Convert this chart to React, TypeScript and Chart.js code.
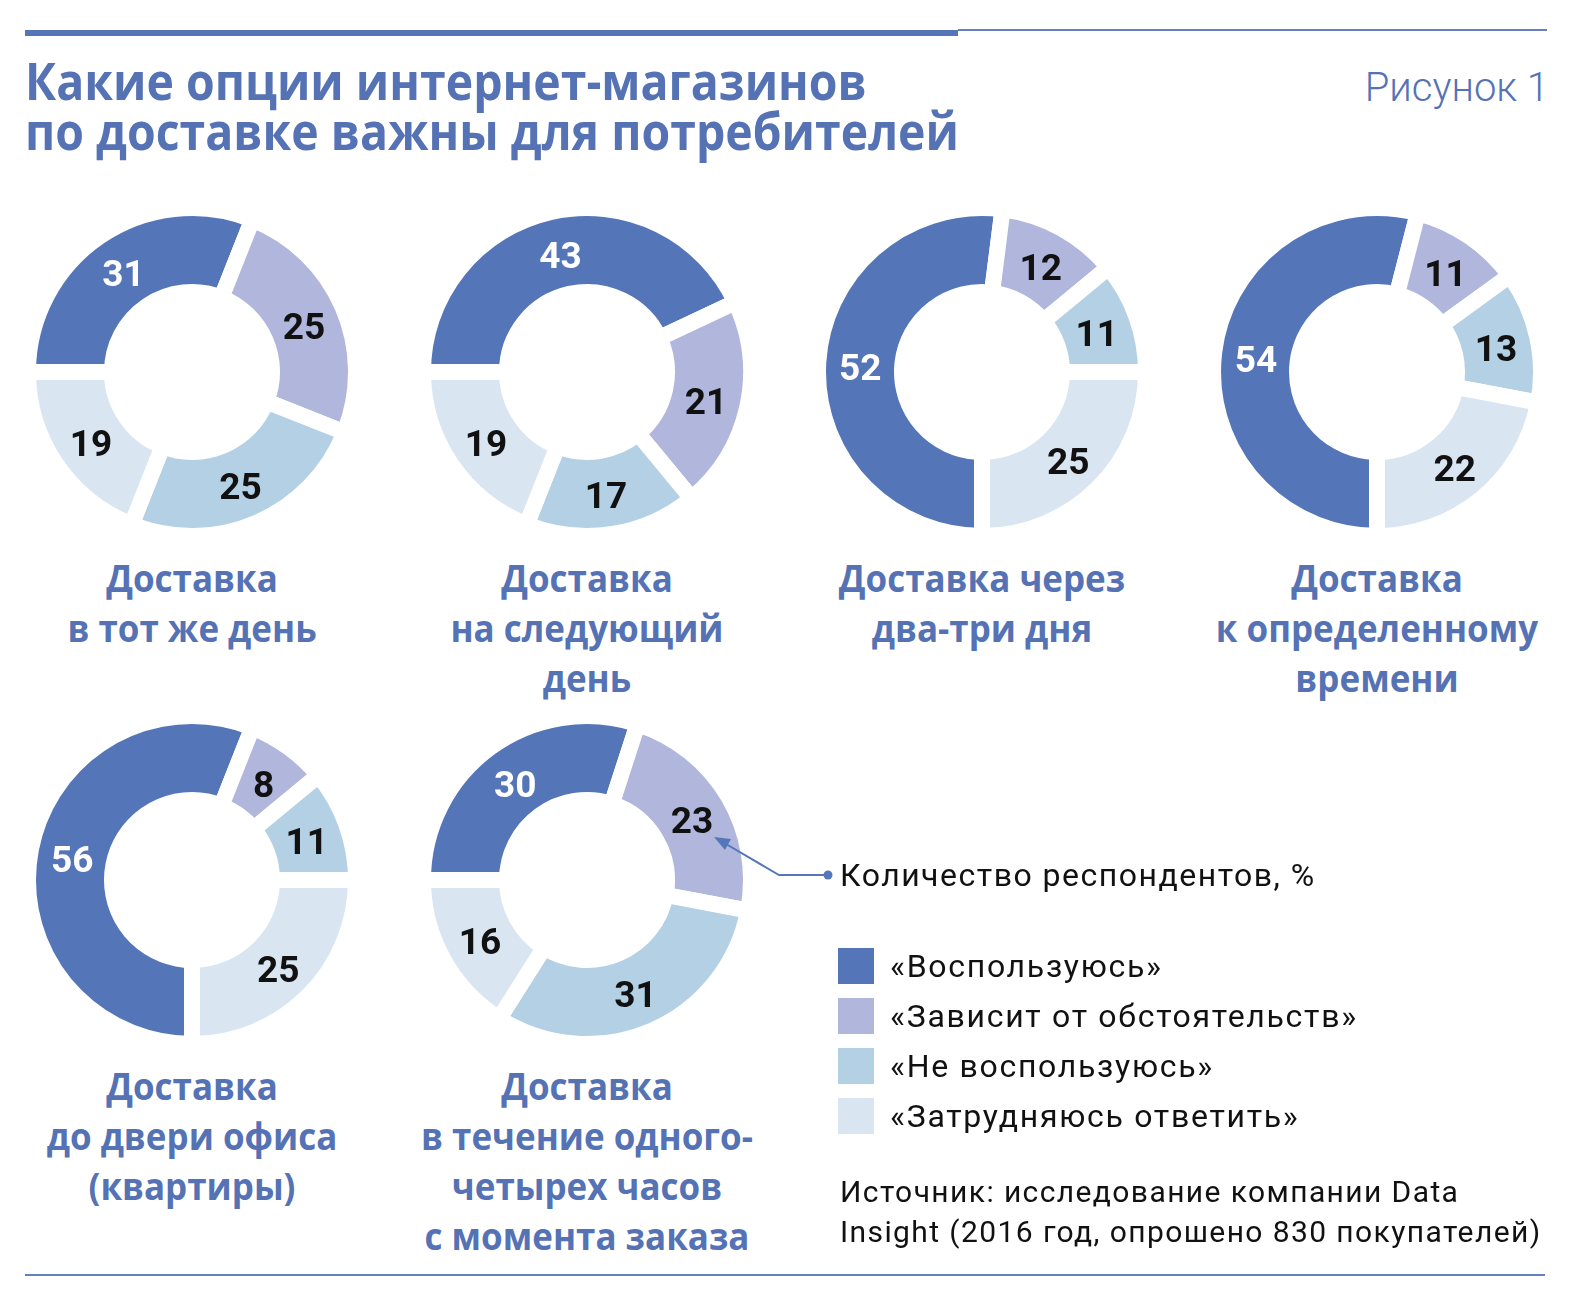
import React, { useEffect, useRef } from "react";
import { Chart, registerables } from "chart.js";

Chart.register(...registerables);

// ---------- data ----------
const categories = [
  "«Воспользуюсь»",
  "«Зависит от обстоятельств»",
  "«Не воспользуюсь»",
  "«Затрудняюсь ответить»",
];
const sameDay = [31, 25, 25, 19];
const nextDay = [43, 21, 17, 19];
const twoThreeDays = [52, 12, 11, 25];
const exactTime = [54, 11, 13, 22];
const toOfficeDoor = [56, 8, 11, 25];
const oneToFourHours = [30, 23, 31, 16];

const chartCaptions = [
  ["Доставка", "в тот же день"],
  ["Доставка", "на следующий", "день"],
  ["Доставка через", "два-три дня"],
  ["Доставка", "к определенному", "времени"],
  ["Доставка", "до двери офиса", "(квартиры)"],
  ["Доставка", "в течение одного-", "четырех часов", "с момента заказа"],
];
const seriesValues = [sameDay, nextDay, twoThreeDays, exactTime, toOfficeDoor, oneToFourHours];

const titleLines = ["Какие опции интернет-магазинов", "по доставке важны для потребителей"];
const figureLabel = "Рисунок 1";
const noteLabel = "Количество респондентов, %";
const sourceLines = [
  "Источник: исследование компании Data",
  "Insight (2016 год, опрошено 830 покупателей)",
];

// ---------- styles ----------
const COLORS = ["#5475b8", "#b0b6dc", "#b3d0e5", "#d9e6f2"];
const BLUE = "#5572b4";
const START_ANGLES = [-90, -90, 180, 180, 180, -90];
const CENTERS = [
  [192, 372],
  [587, 372],
  [982, 372],
  [1377, 372],
  [192, 880],
  [587, 880],
];
const CANVAS = 344;
const COND = "'Open Sans', sans-serif";
const DIN = "Roboto, sans-serif";

const labelPlugin = {
  id: "sliceLabels",
  afterDatasetsDraw(chart: any) {
    const ctx = chart.ctx as CanvasRenderingContext2D;
    const meta = chart.getDatasetMeta(0);
    const data = chart.data.datasets[0].data as number[];
    ctx.save();
    ctx.font = "bold 37px Roboto";
    ctx.textAlign = "center";
    ctx.textBaseline = "middle";
    meta.data.forEach((arc: any, i: number) => {
      const p = arc.tooltipPosition(false);
      ctx.fillStyle = i === 0 ? "#ffffff" : "#111111";
      ctx.fillText(String(data[i]), p.x, p.y + 6);
    });
    ctx.restore();
  },
};

function Donut({ values, rotation, cx, cy }: { values: number[]; rotation: number; cx: number; cy: number }) {
  const ref = useRef<HTMLCanvasElement>(null);
  useEffect(() => {
    const chart = new Chart(ref.current as HTMLCanvasElement, {
      type: "doughnut",
      data: {
        labels: categories,
        datasets: [
          {
            data: values,
            backgroundColor: COLORS,
            borderColor: "#ffffff",
            borderWidth: 16,
            hoverOffset: 0,
          },
        ],
      },
      options: {
        responsive: false,
        animation: false,
        rotation,
        cutout: 80,
        layout: { padding: 0 },
        events: [],
        plugins: { legend: { display: false }, tooltip: { enabled: false } },
      } as any,
      plugins: [labelPlugin as any],
    });
    return () => chart.destroy();
  }, []);
  return (
    <canvas
      ref={ref}
      width={CANVAS}
      height={CANVAS}
      style={{ position: "absolute", left: cx - CANVAS / 2, top: cy - CANVAS / 2, width: CANVAS, height: CANVAS }}
    />
  );
}

export default function App() {
  const condBold: React.CSSProperties = {
    fontFamily: COND,
    fontWeight: 700,
    color: BLUE,
  };
  const textStyle: React.CSSProperties = {
    position: "absolute",
    color: "#111",
    whiteSpace: "nowrap",
    letterSpacing: "1.7px",
  };
  return (
    <div
      style={{
        position: "absolute",
        left: 0,
        top: 0,
        width: 1572,
        height: 1307,
        background: "#ffffff",
        overflow: "hidden",
        fontFamily: DIN,
      }}
    >
      {/* top rules */}
      <div style={{ position: "absolute", left: 25, top: 30, width: 933, height: 6, background: "#5475b8" }} />
      <div style={{ position: "absolute", left: 958, top: 29, width: 589, height: 2, background: "#6581bb" }} />
      {/* bottom rule */}
      <div style={{ position: "absolute", left: 25, top: 1274, width: 1520, height: 2, background: "#6581bb" }} />

      {/* title */}
      <div
        style={{
          ...condBold,
          position: "absolute",
          left: 25,
          top: 55,
          fontSize: 52,
          lineHeight: "50px",
          whiteSpace: "nowrap",
          transform: "scaleX(0.893)",
          transformOrigin: "left top",
        }}
      >
        {titleLines.map((t, i) => (
          <div key={i}>{t}</div>
        ))}
      </div>
      <div
        style={{
          position: "absolute",
          right: 23,
          top: 68,
          fontSize: 40,
          lineHeight: "40px",
          fontWeight: 300,
          color: BLUE,
          whiteSpace: "nowrap",
        }}
      >
        {figureLabel}
      </div>

      {/* donuts */}
      {seriesValues.map((v, i) => (
        <Donut key={i} values={v} rotation={START_ANGLES[i]} cx={CENTERS[i][0]} cy={CENTERS[i][1]} />
      ))}

      {/* captions */}
      {chartCaptions.map((lines, i) => (
        <div
          key={"c" + i}
          style={{
            ...condBold,
            position: "absolute",
            left: CENTERS[i][0] - 200,
            width: 400,
            top: CENTERS[i][1] + 180,
            fontSize: 38,
            lineHeight: "50px",
            textAlign: "center",
            whiteSpace: "nowrap",
            transform: "scaleX(0.92)",
            transformOrigin: "center top",
          }}
        >
          {lines.map((t, j) => (
            <div key={j}>{t}</div>
          ))}
        </div>
      ))}

      {/* arrow annotation */}
      <svg width={1572} height={1307} style={{ position: "absolute", left: 0, top: 0 }}>
        <polyline points="827,875 779,875 726,844" stroke="#5577b9" strokeWidth={2} fill="none" />
        <polygon points="714,837 731,839 725,850" fill="#5577b9" />
        <circle cx={828} cy={875} r={4.5} fill="#5577b9" />
      </svg>
      <div style={{ ...textStyle, letterSpacing: "1.5px", left: 840, top: 857, fontSize: 32, lineHeight: "36px" }}>
        {noteLabel}
      </div>

      {/* legend */}
      {categories.map((c, i) => (
        <React.Fragment key={"l" + i}>
          <div
            style={{
              position: "absolute",
              left: 838,
              top: 948 + i * 50,
              width: 36,
              height: 36,
              background: COLORS[i],
            }}
          />
          <div style={{ ...textStyle, left: 890, top: 948 + i * 50, fontSize: 32, lineHeight: "36px" }}>{c}</div>
        </React.Fragment>
      ))}

      {/* source */}
      <div style={{ ...textStyle, letterSpacing: "1.4px", left: 840, top: 1172, fontSize: 30, lineHeight: "40px" }}>
        {sourceLines.map((t, i) => (
          <div key={i}>{t}</div>
        ))}
      </div>
    </div>
  );
}
